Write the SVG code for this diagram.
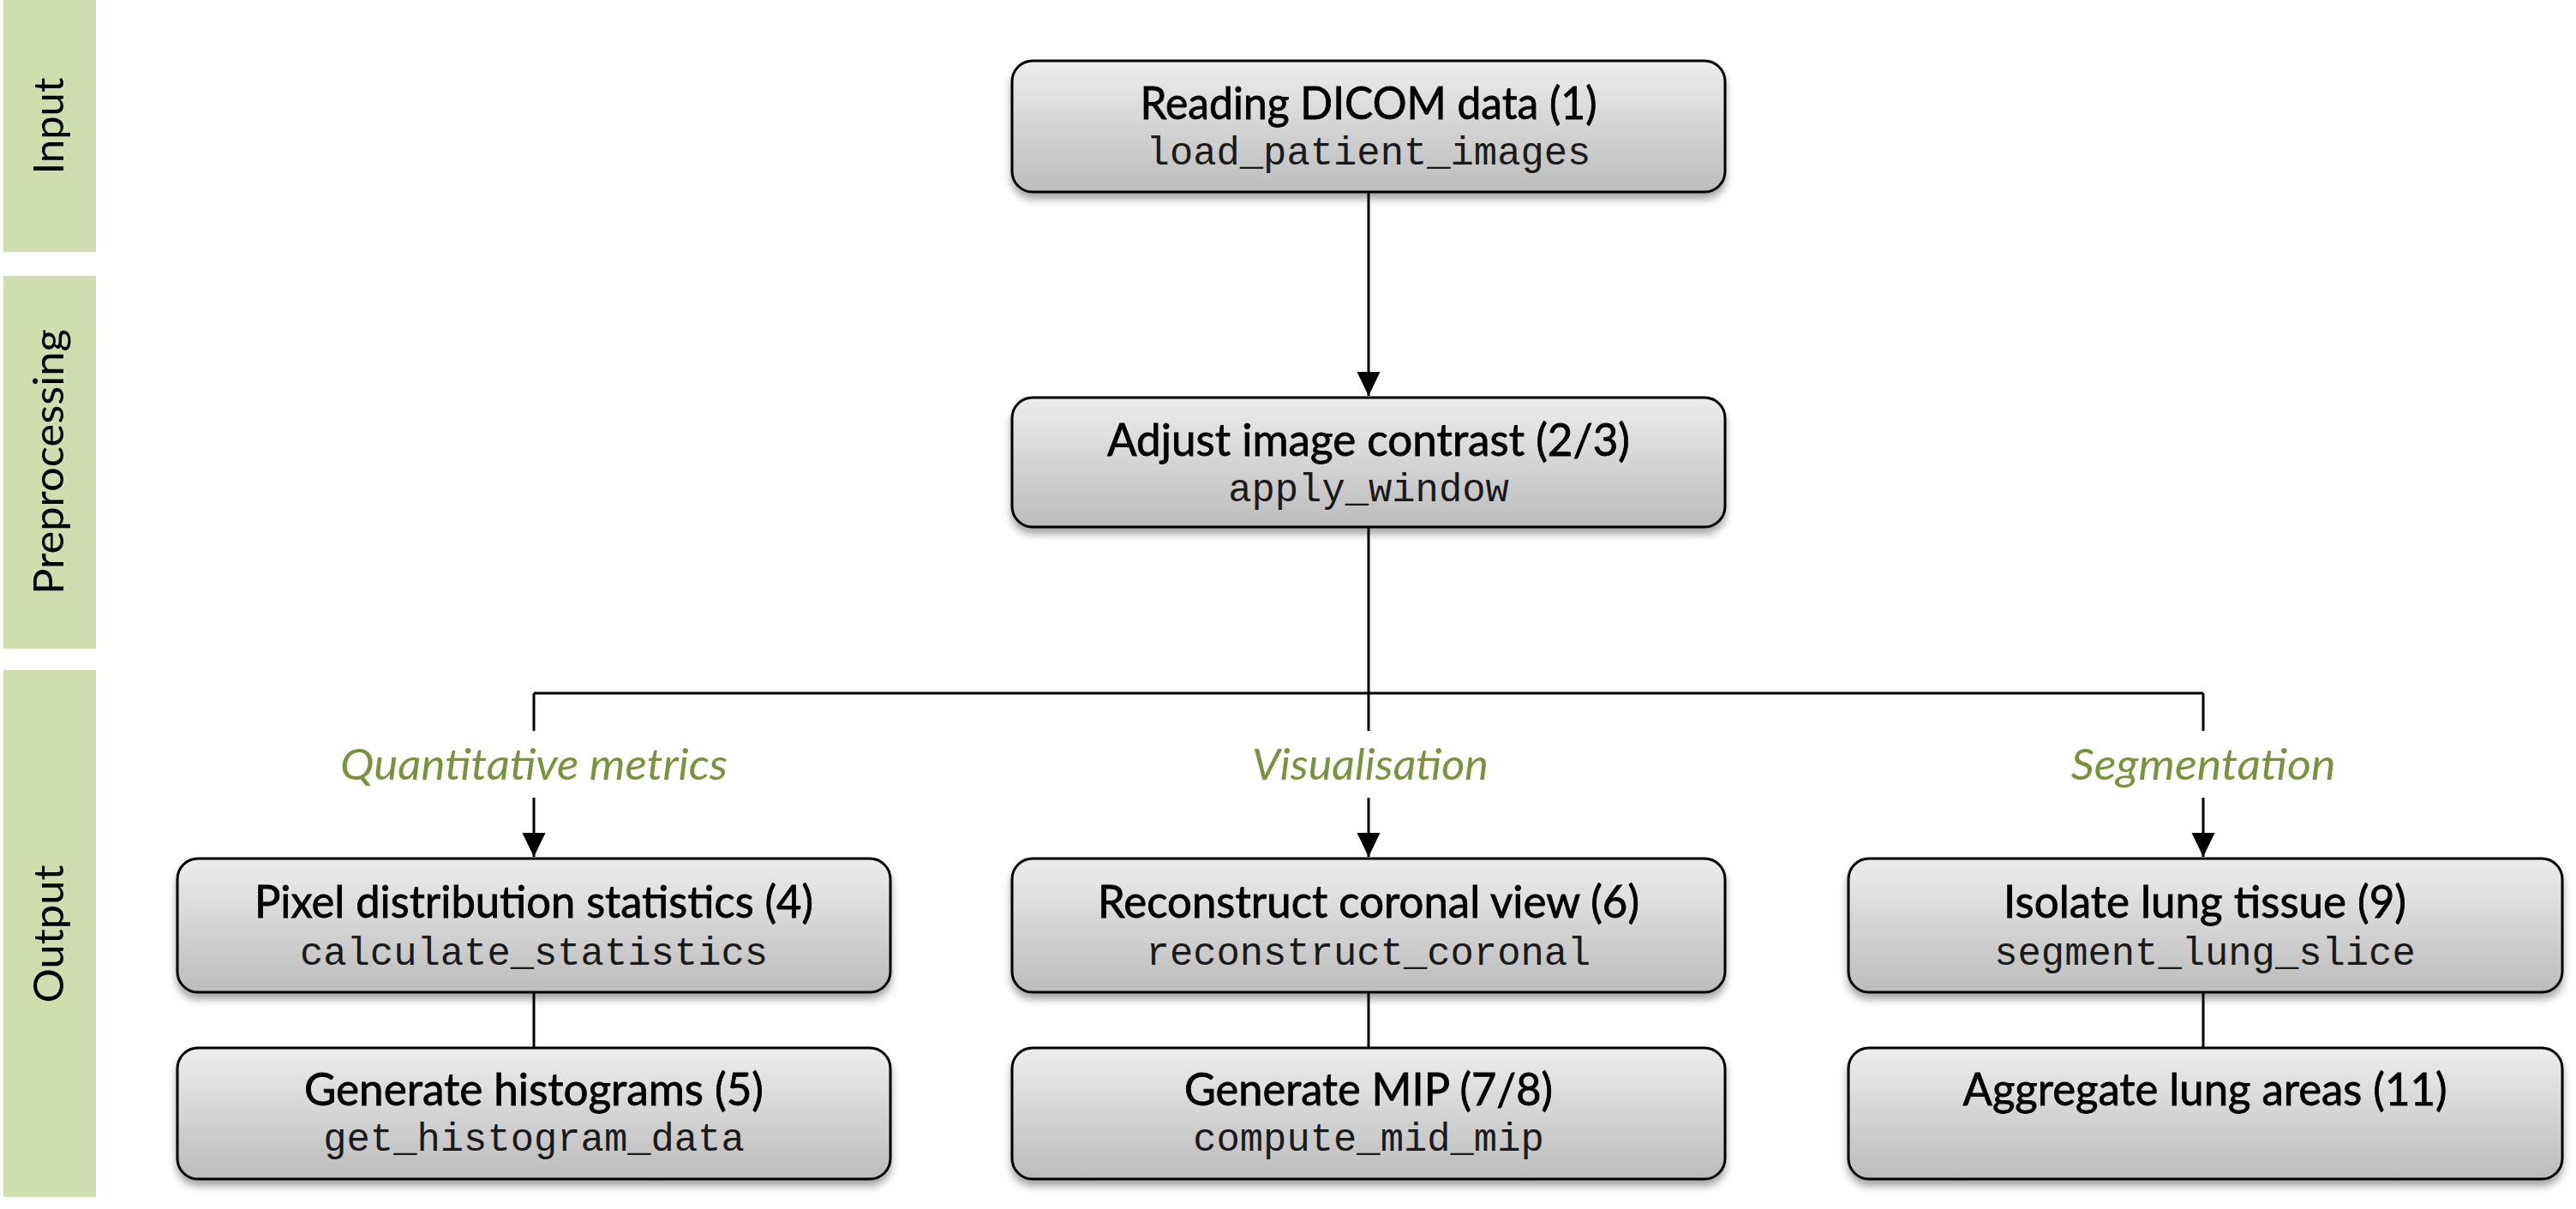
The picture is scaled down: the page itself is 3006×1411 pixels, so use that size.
<svg xmlns="http://www.w3.org/2000/svg" width="3006" height="1411" viewBox="0 0 3006 1411">
<style>
.band{fill:#D0DEAF}
.bl{font-family:Lato,"Liberation Sans",sans-serif;font-size:48px;fill:#000}
.box{fill:url(#g);stroke:#000;stroke-width:3;filter:url(#sh)}
.t{font-family:Lato,"Liberation Sans",sans-serif;font-size:52px;fill:#000;stroke:#000;stroke-width:0.8;text-anchor:middle}
.m{font-family:"Liberation Mono","Courier New",monospace;font-size:45.5px;fill:#1a1a1a;text-anchor:middle}
.lab{font-family:Lato,"Liberation Sans",sans-serif;font-style:italic;font-size:51px;fill:#77933C;text-anchor:middle}
.c{stroke:#000;stroke-width:3;fill:none}
</style>
<defs>
<linearGradient id="g" x1="0" y1="0" x2="0" y2="1">
<stop offset="0" stop-color="#EDEDED"/>
<stop offset="1" stop-color="#BCBCBC"/>
</linearGradient>
<filter id="sh" x="-5%" y="-10%" width="110%" height="130%">
<feDropShadow dx="0" dy="7" stdDeviation="5" flood-color="#000" flood-opacity="0.35"/>
</filter>
<marker id="ah" markerUnits="userSpaceOnUse" markerWidth="28" markerHeight="28" refX="28" refY="13.5" orient="auto">
<path d="M0,0 L28,13.5 L0,27 Z" fill="#000"/>
</marker>
</defs>
<rect width="3006" height="1411" fill="#fff"/>
<g id="band-input">
<rect class="band" x="4" y="0" width="108" height="294"/>
<text class="bl" transform="translate(74,147) rotate(-90)" text-anchor="middle" textLength="113" lengthAdjust="spacingAndGlyphs">Input</text>
</g>
<g id="band-preprocessing">
<rect class="band" x="4" y="322" width="108" height="435"/>
<text class="bl" transform="translate(74,539) rotate(-90)" text-anchor="middle" textLength="310" lengthAdjust="spacingAndGlyphs">Preprocessing</text>
</g>
<g id="band-output">
<rect class="band" x="4" y="782" width="108" height="615"/>
<text class="bl" transform="translate(74,1090) rotate(-90)" text-anchor="middle" textLength="161" lengthAdjust="spacingAndGlyphs">Output</text>
</g>
<g id="connectors">
<path class="c" d="M1597 224 V462" marker-end="url(#ah)"/>
<path class="c" d="M1597 615 V853"/>
<path class="c" d="M623 809 H2571"/>
<path class="c" d="M623 809 V853"/>
<path class="c" d="M2571 809 V853"/>
<path class="c" d="M623 931 V1000" marker-end="url(#ah)"/>
<path class="c" d="M1597 931 V1000" marker-end="url(#ah)"/>
<path class="c" d="M2571 931 V1000" marker-end="url(#ah)"/>
<path class="c" d="M623 1158 V1223"/>
<path class="c" d="M1597 1158 V1223"/>
<path class="c" d="M2571 1158 V1223"/>
<text class="lab" x="623" y="910" textLength="452" lengthAdjust="spacingAndGlyphs">Quantitative metrics</text>
<text class="lab" x="1599" y="910" textLength="276" lengthAdjust="spacingAndGlyphs">Visualisation</text>
<text class="lab" x="2571" y="910" textLength="309" lengthAdjust="spacingAndGlyphs">Segmentation</text>
</g>
<g id="node1">
<rect class="box" x="1181" y="71" width="832" height="153" rx="24"/>
<text class="t" x="1597" y="139" textLength="533" lengthAdjust="spacingAndGlyphs">Reading DICOM data (1)</text>
<text class="m" x="1597" y="192">load_patient_images</text>
</g>
<g id="node2">
<rect class="box" x="1181" y="464" width="832" height="151" rx="24"/>
<text class="t" x="1597" y="532" textLength="610" lengthAdjust="spacingAndGlyphs">Adjust image contrast (2/3)</text>
<text class="m" x="1597" y="585">apply_window</text>
</g>
<g id="node4">
<rect class="box" x="207" y="1002" width="832" height="156" rx="24"/>
<text class="t" x="623" y="1071" textLength="652" lengthAdjust="spacingAndGlyphs">Pixel distribution statistics (4)</text>
<text class="m" x="623" y="1126">calculate_statistics</text>
</g>
<g id="node5">
<rect class="box" x="207" y="1223" width="832" height="153" rx="24"/>
<text class="t" x="623" y="1290" textLength="536" lengthAdjust="spacingAndGlyphs">Generate histograms (5)</text>
<text class="m" x="623" y="1343">get_histogram_data</text>
</g>
<g id="node6">
<rect class="box" x="1181" y="1002" width="832" height="156" rx="24"/>
<text class="t" x="1597" y="1071" textLength="632" lengthAdjust="spacingAndGlyphs">Reconstruct coronal view (6)</text>
<text class="m" x="1597" y="1126">reconstruct_coronal</text>
</g>
<g id="node7">
<rect class="box" x="1181" y="1223" width="832" height="153" rx="24"/>
<text class="t" x="1597" y="1290" textLength="430" lengthAdjust="spacingAndGlyphs">Generate MIP (7/8)</text>
<text class="m" x="1597" y="1343">compute_mid_mip</text>
</g>
<g id="node9">
<rect class="box" x="2157" y="1002" width="833" height="156" rx="24"/>
<text class="t" x="2573" y="1071" textLength="470" lengthAdjust="spacingAndGlyphs">Isolate lung tissue (9)</text>
<text class="m" x="2573" y="1126">segment_lung_slice</text>
</g>
<g id="node11">
<rect class="box" x="2157" y="1223" width="833" height="153" rx="24"/>
<text class="t" x="2573" y="1290" textLength="565" lengthAdjust="spacingAndGlyphs">Aggregate lung areas (11)</text>
</g>
</svg>
